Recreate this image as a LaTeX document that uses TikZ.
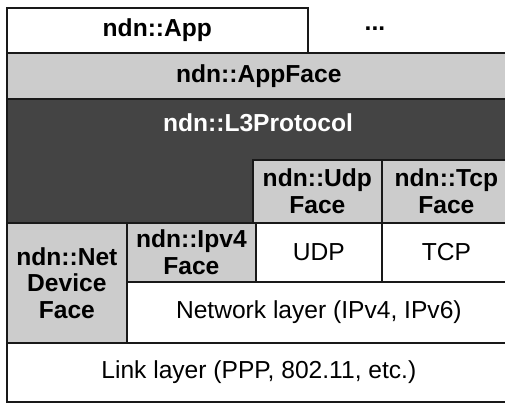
\documentclass[tikz,border=0pt]{standalone}
\usepackage{fontspec}
\setmainfont{Liberation Sans}
\usepackage{tikz}
\usetikzlibrary{positioning}
\definecolor{facegray}{HTML}{CCCCCC}
\definecolor{l3gray}{HTML}{444444}
\tikzset{
        x=0.02cm, y=-0.02cm, % one unit is one pixel of the layout
        layer/.style={draw=black!90, line width=1pt, fill=white, anchor=north west,
                      inner sep=0pt, align=center, font=\fontsize{14}{15}\selectfont}, % every box
        face/.style={layer, fill=facegray, font=\fontsize{14}{15}\selectfont\bfseries}, % ndn faces
        core/.style={layer, fill=l3gray}, % the L3 protocol block
    }

\begin{document}
\begin{tikzpicture}
    \useasboundingbox (0,0) rectangle (505,403);
    \node[layer, font=\fontsize{14}{15}\selectfont\bfseries, minimum width=6.02cm, minimum height=0.90cm] (app) at (6,7) {ndn::App};
    \node[font=\fontsize{14}{15}\selectfont\bfseries] (more) at (375,29) {...};
    \node[face, minimum width=10.08cm, minimum height=0.92cm] (appface) at (6,52) {ndn::AppFace};
    \node[core, minimum width=10.08cm, minimum height=2.48cm] (l3) at (6,98) {};
    \node[text=white, font=\fontsize{14}{15}\selectfont\bfseries] (l3name) at (258,123) {ndn::L3Protocol};
    \node[face, minimum width=2.58cm, minimum height=1.26cm] (udpface) at (252,159) {ndn::Udp\\Face};
    \node[face, minimum width=2.58cm, minimum height=1.26cm] (tcpface) at (381,159) {ndn::Tcp\\Face};
    \node[face, minimum width=2.40cm, minimum height=2.40cm] (netface) at (6,222) {ndn::Net\\Device\\Face};
    \node[face, minimum width=2.58cm, minimum height=1.18cm] (ipv4face) at (126,222) {ndn::Ipv4\\Face};
    \node[layer, minimum width=2.52cm, minimum height=1.18cm] (udp) at (255,222) {UDP};
    \node[layer, minimum width=2.58cm, minimum height=1.18cm] (tcp) at (381,222) {TCP};
    \node[layer, minimum width=7.68cm, minimum height=1.22cm] (network) at (126,281) {Network layer (IPv4, IPv6)};
    \node[layer, minimum width=10.08cm, minimum height=1.18cm] (link) at (6,342) {Link layer (PPP, 802.11, etc.)};
\end{tikzpicture}
\end{document}
